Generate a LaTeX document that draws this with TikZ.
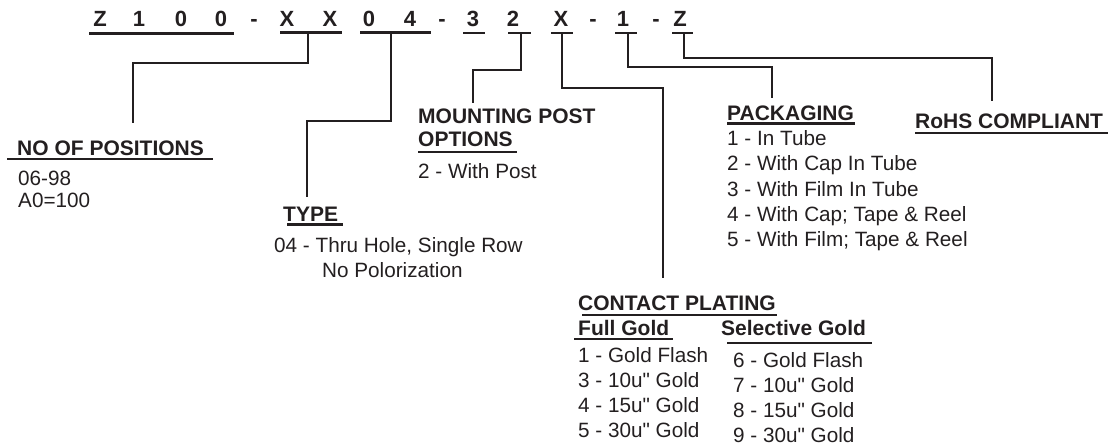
\documentclass[tikz,border=0pt]{standalone}
\usepackage{fontspec}
\setmainfont{Liberation Sans}
\definecolor{ink}{HTML}{231F20}
\begin{document}
\begin{tikzpicture}[x=1pt,y=-1pt,
  code/.style={inner sep=0pt,anchor=base,font=\fontsize{22}{26}\selectfont\bfseries,text=ink},
  hdr/.style={inner sep=0pt,anchor=base west,font=\fontsize{21}{25}\selectfont\bfseries,text=ink},
  item/.style={inner sep=0pt,anchor=base west,font=\fontsize{20.7}{25}\selectfont,text=ink},
  uline/.style={draw=ink,line width=2.1pt},
  conn/.style={draw=ink,line width=2.4pt,line join=miter}]
\useasboundingbox (0,0) rectangle (1116,445);
% code characters
\foreach \c/\x [count=\i] in {Z/100,1/139,0/181,0/221,-/254,X/287,X/330,0/369,4/410,-/442,3/473,2/513,X/561,-/593,1/623,-/656,Z/680}
  \node[code] (c\i) at (\x,26) {\c};
% code underlines
\path[uline] (89,33.5) -- (234,33.5);
\path[uline] (280,32.5) -- (342,32.5);
\path[uline] (360,32.5) -- (431,32.5);
\path[uline] (463,33) -- (485,33);
\path[uline] (508,33) -- (531,33);
\path[uline] (551,33) -- (573,33);
\path[uline] (615,33) -- (637,33);
\path[uline] (672,33) -- (693,33);
% connector start coordinates
\coordinate (sPos) at (308,32);
\coordinate (sType) at (391,32);
\coordinate (sPost) at (521,33);
\coordinate (sPlat) at (562,33);
\coordinate (sPack) at (628,33);
\coordinate (sRohs) at (684,33);
% connector end coordinates
\coordinate (ePos) at (133,123);
\coordinate (eType) at (307,197);
\coordinate (ePost) at (473,103);
\coordinate (ePlat) at (663,278);
\coordinate (ePack) at (772,98);
\coordinate (eRohs) at (992,101);
% connectors
\path[conn] (sPos) -- (308,63) -| (ePos);
\path[conn] (sType) -- (391,121) -| (eType);
\path[conn] (sPost) -- (521,70) -| (ePost);
\path[conn] (sPlat) -- (562,88) -| (ePlat);
\path[conn] (sPack) -- (628,67) -| (ePack);
\path[conn] (sRohs) -- (684,58) -| (eRohs);
% NO OF POSITIONS
\node[hdr] (hPos) at (17,155) {NO OF POSITIONS};
\path[uline] (7,159) -- (213,159);
\node[item] (p1) at (18,185) {06-98};
\node[item] (p2) at (18,207) {A0=100};
% TYPE
\node[hdr] (hType) at (283,221) {TYPE};
\path[uline] (287,224.5) -- (343,224.5);
\node[item] (t1) at (274,252) {04 - Thru Hole, Single Row};
\node[item] (t2) at (322,277) {No Polorization};
% MOUNTING POST
\node[hdr] (hPost1) at (418,123) {MOUNTING POST};
\node[hdr] (hPost2) at (418,146) {OPTIONS};
\path[uline] (418,152) -- (517,152);
\node[item] (m1) at (418,178) {2 - With Post};
% PACKAGING
\node[hdr] (hPack) at (727,120) {PACKAGING};
\path[uline] (727,123.5) -- (855,123.5);
\foreach \t/\y [count=\i] in {1 - In Tube/145,2 - With Cap In Tube/170,3 - With Film In Tube/196,4 - With Cap; Tape \& Reel/221,5 - With Film; Tape \& Reel/246}
  \node[item] (k\i) at (727,\y) {\t};
% RoHS
\node[hdr] (hRohs) at (915,128) {RoHS COMPLIANT};
\path[uline] (915,133) -- (1108,133);
% CONTACT PLATING
\node[hdr] (hPlat) at (578,310) {CONTACT PLATING};
\path[uline] (582,315) -- (777,315);
\node[hdr] (hFull) at (578,335) {Full Gold};
\path[uline] (574,339) -- (673,339);
\node[hdr] (hSel) at (721,335) {Selective Gold};
\path[uline] (727,343) -- (872,343);
\foreach \t/\y [count=\i] in {1 - Gold Flash/362,3 - 10u\textquotedbl{} Gold/387,4 - 15u\textquotedbl{} Gold/412,5 - 30u\textquotedbl{} Gold/437}
  \node[item] (f\i) at (578,\y) {\t};
\foreach \t/\y [count=\i] in {6 - Gold Flash/367,7 - 10u\textquotedbl{} Gold/392,8 - 15u\textquotedbl{} Gold/417,9 - 30u\textquotedbl{} Gold/442}
  \node[item] (g\i) at (733,\y) {\t};
\end{tikzpicture}
\end{document}
